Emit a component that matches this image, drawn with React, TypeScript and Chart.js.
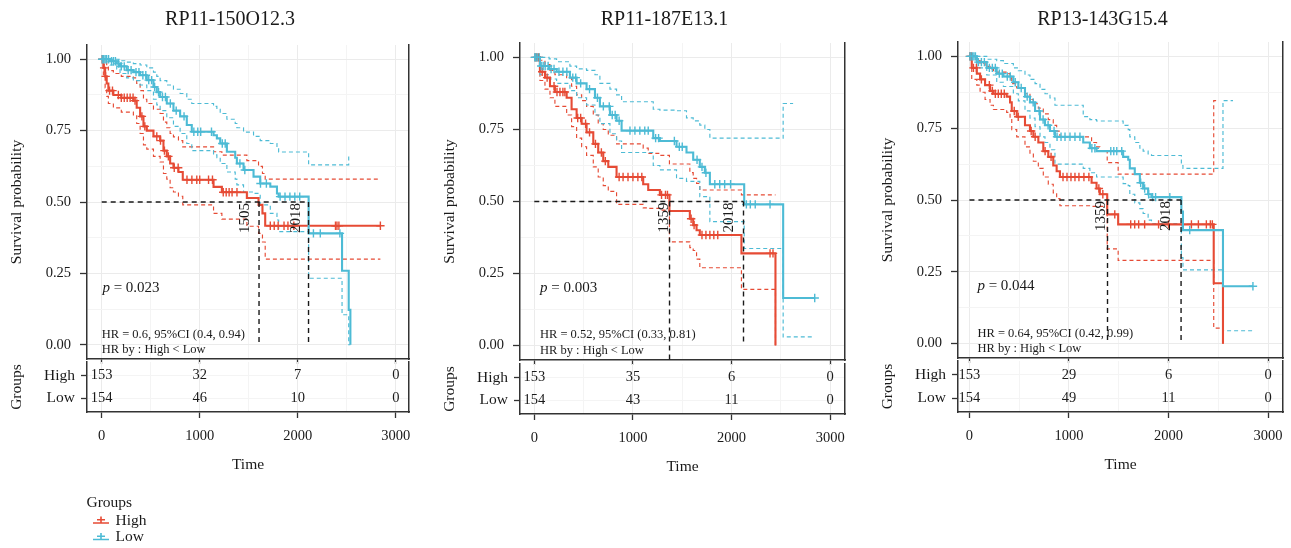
import React, { useEffect, useRef } from 'react';
import { Chart, registerables } from 'chart.js';

Chart.register(...registerables);

const SERIF = '"Liberation Serif", "DejaVu Serif", serif';
const RED = '#E64B35';
const BLUE = '#4DBBD5';
const INK = '#1a1a1a';
const AXIS = '#333333';
const GRID_MAJOR = '#EBEBEB';
const GRID_MINOR = '#F4F4F4';
const CLEAR = 'rgba(0,0,0,0)';

// ---------- labels / ticks ----------
const titles = ['RP11-150O12.3', 'RP11-187E13.1', 'RP13-143G15.4'];
const groupNames = ['High', 'Low'];
const groupColors = [RED, BLUE];
const legendTitle = 'Groups';
const timeTicks = [0, 1000, 2000, 3000];
const timeGrid = [0, 500, 1000, 1500, 2000, 2500, 3000];
const survTicks = [0, 0.25, 0.5, 0.75, 1];
const survGrid = [0, 0.125, 0.25, 0.375, 0.5, 0.625, 0.75, 0.875, 1];
const rowValues = [2, 1];
const pValues = ['0.023', '0.003', '0.044'];
const hrTexts = ['HR = 0.6, 95%CI (0.4, 0.94)', 'HR = 0.52, 95%CI (0.33, 0.81)', 'HR = 0.64, 95%CI (0.42, 0.99)'];
const hrBy = 'HR by : High < Low';

// ---------- panel 1 : RP11-150O12.3 ----------
const p1HighT = [0, 17, 35, 51, 68, 119, 200, 323, 357, 392, 426, 460, 528, 596, 630, 664, 698, 732, 783, 827, 1141, 1226, 1481, 1600, 1640, 1668, 2843];
const p1HighS = [1, 0.97, 0.94, 0.915, 0.89, 0.875, 0.865, 0.855, 0.83, 0.8, 0.765, 0.75, 0.73, 0.715, 0.68, 0.66, 0.635, 0.62, 0.605, 0.578, 0.553, 0.534, 0.514, 0.49, 0.46, 0.417, 0.417];
const p1HighUp = [1, 1, 0.99, 0.975, 0.96, 0.95, 0.94, 0.935, 0.915, 0.89, 0.86, 0.845, 0.825, 0.81, 0.78, 0.76, 0.74, 0.728, 0.715, 0.693, 0.676, 0.664, 0.645, 0.625, 0.6, 0.58, 0.58];
const p1HighLo = [1, 0.94, 0.9, 0.87, 0.845, 0.83, 0.815, 0.805, 0.775, 0.74, 0.7, 0.685, 0.66, 0.64, 0.6, 0.58, 0.55, 0.535, 0.52, 0.49, 0.46, 0.44, 0.415, 0.39, 0.36, 0.3, 0.3];
const p1HighCens = [5, 25, 40, 80, 110, 170, 200, 230, 260, 290, 320, 340, 410, 440, 562, 600, 640, 680, 740, 780, 870, 920, 970, 1000, 1090, 1130, 1240, 1270, 1300, 1330, 1380, 1720, 1760, 1800, 1860, 1900, 1960, 2385, 2400, 2420, 2843];

const p1LowT = [0, 85, 153, 187, 255, 323, 392, 460, 528, 562, 596, 664, 732, 800, 868, 919, 1141, 1175, 1209, 1277, 1362, 1379, 1447, 1549, 1617, 1720, 1788, 1805, 2111, 2452, 2520, 2537];
const p1LowS = [1, 0.993, 0.985, 0.975, 0.962, 0.955, 0.944, 0.927, 0.903, 0.885, 0.868, 0.845, 0.82, 0.8, 0.77, 0.746, 0.734, 0.723, 0.705, 0.676, 0.655, 0.635, 0.612, 0.589, 0.565, 0.554, 0.53, 0.519, 0.39, 0.259, 0.122, 0];
const p1LowUp = [1, 1, 1, 0.995, 0.99, 0.985, 0.98, 0.97, 0.955, 0.94, 0.925, 0.91, 0.895, 0.88, 0.86, 0.845, 0.835, 0.825, 0.81, 0.79, 0.775, 0.76, 0.745, 0.73, 0.715, 0.705, 0.69, 0.675, 0.63, 0.63, 0.664, 0.664];
const p1LowLo = [1, 0.98, 0.965, 0.95, 0.935, 0.925, 0.91, 0.89, 0.86, 0.84, 0.82, 0.795, 0.765, 0.74, 0.705, 0.68, 0.665, 0.655, 0.635, 0.605, 0.58, 0.56, 0.535, 0.53, 0.49, 0.46, 0.437, 0.396, 0.233, 0.105, 0, 0];
const p1LowCens = [5, 20, 35, 50, 70, 100, 120, 140, 170, 200, 230, 270, 300, 350, 380, 420, 450, 480, 510, 540, 580, 620, 650, 700, 760, 840, 940, 980, 1010, 1120, 1230, 1260, 1410, 1460, 1620, 1680, 1820, 1870, 1920, 1970, 2020, 2160, 2230, 2430];

const p1MedLine = [1605, 2110];
const p1MedText = [1505, 2018];
const p1MedBottom = [0, 0];
const p1RiskHigh = [153, 32, 7, 0];
const p1RiskLow = [154, 46, 10, 0];

// ---------- panel 2 : RP11-187E13.1 ----------
const p2HighT = [0, 57, 108, 159, 209, 328, 378, 429, 480, 530, 598, 648, 699, 750, 834, 1104, 1155, 1273, 1370, 1577, 1611, 1645, 1678, 2100, 2445];
const p2HighS = [1, 0.95, 0.93, 0.9, 0.88, 0.86, 0.82, 0.79, 0.77, 0.74, 0.7, 0.67, 0.64, 0.62, 0.585, 0.56, 0.54, 0.523, 0.467, 0.44, 0.418, 0.4, 0.384, 0.32, 0];
const p2HighUp = [1, 0.99, 0.975, 0.955, 0.94, 0.93, 0.9, 0.87, 0.85, 0.83, 0.8, 0.77, 0.75, 0.73, 0.7, 0.685, 0.667, 0.66, 0.63, 0.6, 0.58, 0.563, 0.54, 0.523, 0.523];
const p2HighLo = [1, 0.92, 0.89, 0.86, 0.83, 0.8, 0.76, 0.72, 0.69, 0.66, 0.62, 0.585, 0.555, 0.535, 0.49, 0.478, 0.476, 0.47, 0.36, 0.34, 0.33, 0.3, 0.27, 0.195, 0];
const p2HighCens = [8, 25, 45, 80, 130, 200, 230, 260, 290, 310, 440, 470, 520, 560, 620, 680, 720, 860, 900, 950, 1000, 1050, 1090, 1290, 1330, 1350, 1590, 1620, 1700, 1740, 1780, 1820, 1860, 2390, 2420];

const p2LowT = [0, 57, 150, 226, 361, 429, 530, 615, 665, 767, 834, 885, 1206, 1273, 1442, 1543, 1611, 1678, 1729, 1780, 2128, 2523, 2624, 2843];
const p2LowS = [1, 0.97, 0.96, 0.95, 0.93, 0.91, 0.89, 0.86, 0.83, 0.8, 0.78, 0.746, 0.72, 0.71, 0.69, 0.67, 0.645, 0.62, 0.6, 0.56, 0.49, 0.165, 0.165, 0.165];
const p2LowUp = [1, 1, 0.995, 0.985, 0.97, 0.96, 0.955, 0.94, 0.91, 0.89, 0.87, 0.846, 0.82, 0.817, 0.815, 0.79, 0.78, 0.765, 0.75, 0.72, 0.72, 0.84, 0.84, null];
const p2LowLo = [1, 0.94, 0.925, 0.91, 0.885, 0.86, 0.835, 0.8, 0.77, 0.735, 0.71, 0.67, 0.625, 0.61, 0.58, 0.57, 0.57, 0.517, 0.517, 0.43, 0.337, 0.03, 0.03, 0.03];
const p2LowCens = [5, 15, 30, 50, 70, 90, 110, 140, 170, 200, 250, 290, 330, 390, 420, 470, 560, 640, 700, 760, 790, 820, 860, 970, 1020, 1070, 1120, 1155, 1230, 1260, 1420, 1470, 1500, 1650, 1700, 1740, 1830, 1880, 1930, 1990, 2150, 2190, 2240, 2390, 2843];

const p2MedLine = [1371, 2121];
const p2MedText = [1359, 2018];
const p2MedBottom = [-0.05, 0];
const p2RiskHigh = [153, 35, 6, 0];
const p2RiskLow = [154, 43, 11, 0];

// ---------- panel 3 : RP13-143G15.4 ----------
const p3HighT = [0, 23, 74, 107, 157, 207, 241, 374, 408, 425, 475, 558, 608, 642, 692, 742, 792, 842, 876, 909, 1227, 1277, 1310, 1384, 1494, 2454, 2480, 2547];
const p3HighS = [1, 0.96, 0.94, 0.92, 0.9, 0.88, 0.87, 0.86, 0.84, 0.81, 0.79, 0.76, 0.74, 0.72, 0.7, 0.67, 0.65, 0.62, 0.6, 0.58, 0.56, 0.54, 0.52, 0.45, 0.415, 0.21, 0.21, 0];
const p3HighUp = [1, 1, 0.985, 0.975, 0.965, 0.955, 0.945, 0.94, 0.925, 0.905, 0.89, 0.87, 0.85, 0.835, 0.82, 0.8, 0.78, 0.76, 0.74, 0.72, 0.7, 0.685, 0.67, 0.63, 0.59, 0.846, 0.846, null];
const p3HighLo = [1, 0.92, 0.9, 0.875, 0.85, 0.83, 0.815, 0.805, 0.78, 0.745, 0.72, 0.685, 0.66, 0.635, 0.61, 0.58, 0.555, 0.525, 0.505, 0.48, 0.478, 0.478, 0.478, 0.33, 0.29, 0.054, 0.054, 0];
const p3HighCens = [5, 20, 40, 70, 120, 200, 230, 260, 290, 320, 350, 450, 490, 620, 660, 760, 820, 940, 980, 1020, 1060, 1100, 1150, 1200, 1300, 1340, 1460, 1620, 1660, 1700, 1760, 1900, 2000, 2230, 2300, 2380, 2420, 2440];

const p3LowT = [0, 74, 174, 274, 341, 441, 491, 558, 608, 659, 709, 759, 809, 859, 1143, 1210, 1277, 1544, 1595, 1611, 1661, 1712, 1745, 1795, 1829, 2129, 2145, 2547, 2648, 2848];
const p3LowS = [1, 0.98, 0.96, 0.94, 0.93, 0.91, 0.89, 0.86, 0.84, 0.81, 0.78, 0.76, 0.74, 0.72, 0.7, 0.68, 0.67, 0.65, 0.64, 0.61, 0.59, 0.56, 0.54, 0.52, 0.51, 0.46, 0.395, 0.2, 0.2, 0.2];
const p3LowUp = [1, 1, 0.99, 0.985, 0.975, 0.96, 0.95, 0.935, 0.92, 0.905, 0.885, 0.87, 0.855, 0.83, 0.79, 0.78, 0.775, 0.76, 0.745, 0.72, 0.7, 0.68, 0.67, 0.66, 0.655, 0.62, 0.61, 0.846, 0.846, null];
const p3LowLo = [1, 0.96, 0.935, 0.91, 0.895, 0.87, 0.845, 0.81, 0.785, 0.755, 0.72, 0.7, 0.675, 0.625, 0.61, 0.595, 0.58, 0.557, 0.55, 0.52, 0.49, 0.47, 0.453, 0.43, 0.418, 0.3, 0.257, 0.045, 0.045, 0.045];
const p3LowCens = [5, 15, 30, 45, 60, 90, 120, 150, 200, 230, 260, 300, 330, 380, 410, 460, 520, 580, 640, 700, 740, 790, 850, 880, 920, 960, 1010, 1060, 1110, 1230, 1260, 1420, 1450, 1480, 1530, 1720, 1760, 1800, 1840, 1870, 2013, 2213, 2848];

const p3MedLine = [1387, 2126];
const p3MedText = [1359, 2018];
const p3MedBottom = [0, 0];
const p3RiskHigh = [153, 29, 6, 0];
const p3RiskLow = [154, 49, 11, 0];

// ---------- layout (pixel geometry of each panel on the page) ----------
const Y_AXIS_W = 87;
const PAD_R = 25;
const X_AXIS_H = 6;
const TIME_AXIS_H = 62;
const TITLE_SHIFT = 18;

const boxes = [
  { left: 87, right: 409, top: 45, bottom: 359, tableTop: 362, tableBottom: 412, xMin: -150, xMax: 3135, pX: 7, hrX: 0 },
  { left: 520, right: 845, top: 43, bottom: 360, tableTop: 364, tableBottom: 414, xMin: -145, xMax: 3150, pX: 57, hrX: 57 },
  { left: 958, right: 1283, top: 42, bottom: 358, tableTop: 361, tableBottom: 412, xMin: -115, xMax: 3150, pX: 80, hrX: 80 },
];

const panels = [
  {
    title: titles[0], box: boxes[0], pValue: pValues[0], hr: hrTexts[0],
    high: { t: p1HighT, s: p1HighS, up: p1HighUp, lo: p1HighLo, cens: p1HighCens },
    low: { t: p1LowT, s: p1LowS, up: p1LowUp, lo: p1LowLo, cens: p1LowCens },
    medLine: p1MedLine, medText: p1MedText, medBottom: p1MedBottom, risk: [p1RiskHigh, p1RiskLow],
  },
  {
    title: titles[1], box: boxes[1], pValue: pValues[1], hr: hrTexts[1],
    high: { t: p2HighT, s: p2HighS, up: p2HighUp, lo: p2HighLo, cens: p2HighCens },
    low: { t: p2LowT, s: p2LowS, up: p2LowUp, lo: p2LowLo, cens: p2LowCens },
    medLine: p2MedLine, medText: p2MedText, medBottom: p2MedBottom, risk: [p2RiskHigh, p2RiskLow],
  },
  {
    title: titles[2], box: boxes[2], pValue: pValues[2], hr: hrTexts[2],
    high: { t: p3HighT, s: p3HighS, up: p3HighUp, lo: p3HighLo, cens: p3HighCens },
    low: { t: p3LowT, s: p3LowS, up: p3LowUp, lo: p3LowLo, cens: p3LowCens },
    medLine: p3MedLine, medText: p3MedText, medBottom: p3MedBottom, risk: [p3RiskHigh, p3RiskLow],
  },
];

// ---------- helpers ----------
function stepValue(ts: number[], ss: number[], t: number) {
  let v = ss[0];
  for (let i = 0; i < ts.length; i++) {
    if (ts[i] <= t) v = ss[i];
    else break;
  }
  return v;
}
function toPoints(ts: number[], vs: (number | null)[]) {
  return ts.map((t, i) => ({ x: t, y: vs[i] }));
}

function survRect(b: any) {
  const width = Math.round(b.right - b.left + Y_AXIS_W + PAD_R);
  const height = Math.ceil(b.bottom + X_AXIS_H + 20);
  return { left: b.left - Y_AXIS_W, top: 0, width, height };
}
function tableRect(b: any) {
  const width = Math.round(b.right - b.left + Y_AXIS_W + PAD_R);
  const top = b.tableTop - 25;
  const height = Math.ceil(25 + (b.tableBottom - b.tableTop) + TIME_AXIS_H + 8);
  return { left: b.left - Y_AXIS_W, top, width, height };
}

function survConfig(spec: any): any {
  const b = spec.box;
  const rect = survRect(b);
  const medDs = (pts: any[]) => ({
    data: pts, showLine: true, borderColor: INK, borderWidth: 1.4, borderDash: [5, 4],
    pointRadius: 0, fill: false,
  });
  const maxMed = Math.max(...spec.medLine);
  const datasets: any[] = [
    medDs([{ x: 0, y: 0.5 }, { x: maxMed, y: 0.5 }]),
    ...spec.medLine.map((m: number, i: number) => medDs([{ x: m, y: 0.5 }, { x: m, y: spec.medBottom[i] }])),
  ];
  const groups = [{ g: spec.low, c: BLUE }, { g: spec.high, c: RED }];
  groups.forEach(({ g, c }) => datasets.push({
    data: g.cens.map((t: number) => ({ x: t, y: stepValue(g.t, g.s, t) })),
    showLine: false, pointStyle: 'cross', pointRadius: 4.2, pointBorderWidth: 1.4,
    pointBorderColor: c, borderColor: c, backgroundColor: c,
  }));
  groups.forEach(({ g, c }) => datasets.push({
    data: toPoints(g.t, g.s), showLine: true, stepped: true, borderColor: c, borderWidth: 2.1, pointRadius: 0,
  }));
  groups.forEach(({ g, c }) => {
    [g.up, g.lo].forEach((vals: any) => datasets.push({
      data: toPoints(g.t, vals), showLine: true, stepped: true, borderColor: c, borderWidth: 1.15,
      borderDash: [4, 3], pointRadius: 0, spanGaps: false,
    }));
  });

  const textPlugin = {
    id: 'survText',
    afterDraw(chart: any) {
      const { ctx, chartArea } = chart;
      const xs = chart.scales.x;
      const ys = chart.scales.y;
      ctx.save();
      ctx.fillStyle = INK;
      ctx.textBaseline = 'middle';
      ctx.textAlign = 'center';
      ctx.font = `20px ${SERIF}`;
      ctx.fillText(spec.title, (chartArea.left + chartArea.right) / 2 - TITLE_SHIFT, 20);

      ctx.textAlign = 'left';
      const px = xs.getPixelForValue(b.pX);
      const py = ys.getPixelForValue(0.2);
      ctx.font = `italic 15px ${SERIF}`;
      ctx.fillText('p', px, py);
      const w = ctx.measureText('p').width;
      ctx.font = `15px ${SERIF}`;
      ctx.fillText(' = ' + spec.pValue, px + w, py);

      ctx.font = `12.5px ${SERIF}`;
      const hx = xs.getPixelForValue(b.hrX);
      ctx.fillText(spec.hr, hx, ys.getPixelForValue(0.036));
      ctx.fillText(hrBy, hx, ys.getPixelForValue(-0.018));

      ctx.font = `15px ${SERIF}`;
      spec.medText.forEach((v: number) => {
        ctx.save();
        ctx.translate(xs.getPixelForValue(v), ys.getPixelForValue(0.5) + 1);
        ctx.rotate(-Math.PI / 2);
        ctx.textAlign = 'right';
        ctx.textBaseline = 'alphabetic';
        ctx.fillText(String(v), 0, 0);
        ctx.restore();
      });
      ctx.restore();
    },
  };

  return {
    type: 'scatter',
    data: { datasets },
    options: {
      animation: false,
      responsive: false,
      events: [],
      layout: { padding: { left: 0, right: PAD_R, top: b.top, bottom: rect.height - b.bottom - X_AXIS_H } },
      plugins: { legend: { display: false }, tooltip: { enabled: false }, title: { display: false } },
      scales: {
        x: {
          type: 'linear', min: b.xMin, max: b.xMax,
          afterBuildTicks: (s: any) => { s.ticks = timeGrid.map((v) => ({ value: v })); },
          afterFit: (s: any) => { s.height = X_AXIS_H; },
          ticks: { display: false },
          grid: {
            color: (c: any) => (timeTicks.includes(c.tick?.value) ? GRID_MAJOR : GRID_MINOR),
            lineWidth: 1, tickLength: 5, tickWidth: 1.3,
            tickColor: (c: any) => (timeTicks.includes(c.tick?.value) ? AXIS : CLEAR),
          },
          border: { display: true, color: AXIS, width: 1.5 },
        },
        y: {
          type: 'linear', min: -0.05, max: 1.05,
          afterBuildTicks: (s: any) => { s.ticks = survGrid.map((v) => ({ value: v })); },
          afterFit: (s: any) => { s.width = Y_AXIS_W; },
          ticks: {
            autoSkip: false, padding: 9, color: INK, font: { family: SERIF, size: 14.5 },
            callback: (v: any) => (survTicks.includes(v) ? Number(v).toFixed(2) : ''),
          },
          grid: {
            color: (c: any) => (survTicks.includes(c.tick?.value) ? GRID_MAJOR : GRID_MINOR),
            lineWidth: 1, tickLength: 7, tickWidth: 1.3,
            tickColor: (c: any) => (survTicks.includes(c.tick?.value) ? AXIS : CLEAR),
          },
          border: { display: true, color: AXIS, width: 1.5 },
          title: {
            display: true, text: 'Survival probability', color: INK,
            font: { family: SERIF, size: 15.5 }, padding: { top: 8, bottom: 0 },
          },
        },
        yRight: {
          type: 'linear', position: 'right', min: -0.05, max: 1.05,
          afterFit: (s: any) => { s.width = 0; },
          ticks: { display: false },
          grid: { display: false },
          border: { display: true, color: AXIS, width: 1.5 },
        },
      },
    },
    plugins: [textPlugin],
  };
}

function tableConfig(spec: any): any {
  const b = spec.box;
  const datasets = groupNames.map((name, gi) => ({
    label: name,
    data: timeTicks.map((t) => ({ x: t, y: rowValues[gi] })),
    pointRadius: 0, showLine: false,
  }));
  const numberPlugin = {
    id: 'riskNumbers',
    afterDatasetsDraw(chart: any) {
      const { ctx } = chart;
      ctx.save();
      ctx.fillStyle = INK;
      ctx.font = `14.5px ${SERIF}`;
      ctx.textAlign = 'center';
      ctx.textBaseline = 'middle';
      chart.data.datasets.forEach((_ds: any, di: number) => {
        const meta = chart.getDatasetMeta(di);
        meta.data.forEach((el: any, i: number) => {
          ctx.fillText(String(spec.risk[di][i]), el.x, el.y);
        });
      });
      ctx.restore();
    },
  };
  return {
    type: 'scatter',
    data: { datasets },
    options: {
      animation: false,
      responsive: false,
      events: [],
      layout: { padding: { left: 0, right: PAD_R, top: 25, bottom: 8 } },
      plugins: { legend: { display: false }, tooltip: { enabled: false } },
      scales: {
        x: {
          type: 'linear', min: b.xMin, max: b.xMax,
          afterBuildTicks: (s: any) => { s.ticks = timeGrid.map((v) => ({ value: v })); },
          afterFit: (s: any) => { s.height = TIME_AXIS_H; },
          ticks: {
            autoSkip: false, maxRotation: 0, padding: 9, color: INK, font: { family: SERIF, size: 14.5 },
            callback: (v: any) => (timeTicks.includes(v) ? String(v) : ''),
          },
          grid: {
            color: (c: any) => (timeTicks.includes(c.tick?.value) ? GRID_MAJOR : GRID_MINOR),
            lineWidth: 1, tickLength: 6, tickWidth: 1.3,
            tickColor: (c: any) => (timeTicks.includes(c.tick?.value) ? AXIS : CLEAR),
          },
          border: { display: true, color: AXIS, width: 1.5 },
          title: { display: true, text: 'Time', color: INK, font: { family: SERIF, size: 15.5 }, padding: { top: 0, bottom: 0 } },
        },
        y: {
          type: 'linear', min: 0.4, max: 2.6,
          afterBuildTicks: (s: any) => { s.ticks = rowValues.map((v) => ({ value: v })); },
          afterFit: (s: any) => { s.width = Y_AXIS_W; },
          ticks: {
            autoSkip: false, padding: 6, color: INK, font: { family: SERIF, size: 15.5 },
            callback: (v: any) => groupNames[rowValues.indexOf(v)] ?? '',
          },
          grid: { color: GRID_MINOR, lineWidth: 1, tickLength: 6, tickWidth: 1.3, tickColor: AXIS },
          border: { display: true, color: AXIS, width: 1.5 },
          title: { display: true, text: legendTitle, color: INK, font: { family: SERIF, size: 15.5 }, padding: { top: 8, bottom: 0 } },
        },
        yRight: {
          type: 'linear', position: 'right', min: 0.4, max: 2.6,
          afterFit: (s: any) => { s.width = 0; },
          ticks: { display: false },
          grid: { display: false },
          border: { display: true, color: AXIS, width: 1.5 },
        },
      },
    },
    plugins: [numberPlugin],
  };
}

const legendPlugin = {
  id: 'groupsLegend',
  afterDraw(chart: any) {
    const { ctx } = chart;
    ctx.save();
    ctx.fillStyle = INK;
    ctx.textAlign = 'left';
    ctx.textBaseline = 'middle';
    ctx.font = `15.5px ${SERIF}`;
    ctx.fillText(legendTitle, 26.5, 18);
    chart.data.datasets.forEach((ds: any, i: number) => {
      const cy = 35.5 + i * 16.5;
      ctx.strokeStyle = ds.borderColor;
      ctx.lineWidth = 1.6;
      ctx.beginPath();
      ctx.moveTo(33, cy + 2.5);
      ctx.lineTo(49, cy + 2.5);
      ctx.moveTo(41, cy - 4);
      ctx.lineTo(41, cy + 2.5);
      ctx.moveTo(37, cy - 0.8);
      ctx.lineTo(45, cy - 0.8);
      ctx.stroke();
      ctx.fillStyle = INK;
      ctx.fillText(ds.label, 55.5, cy);
    });
    ctx.restore();
  },
};

function SurvPanel({ spec }: { spec: any }) {
  const survRef = useRef<HTMLCanvasElement | null>(null);
  const tableRef = useRef<HTMLCanvasElement | null>(null);
  useEffect(() => {
    const c1 = new Chart(survRef.current as HTMLCanvasElement, survConfig(spec));
    const c2 = new Chart(tableRef.current as HTMLCanvasElement, tableConfig(spec));
    return () => { c1.destroy(); c2.destroy(); };
  }, [spec]);
  const sr = survRect(spec.box);
  const tr = tableRect(spec.box);
  return (
    <>
      <canvas ref={survRef} width={sr.width} height={sr.height}
        style={{ position: 'absolute', left: sr.left, top: sr.top, width: sr.width, height: sr.height }} />
      <canvas ref={tableRef} width={tr.width} height={tr.height}
        style={{ position: 'absolute', left: tr.left, top: tr.top, width: tr.width, height: tr.height }} />
    </>
  );
}

function LegendBox() {
  const ref = useRef<HTMLCanvasElement | null>(null);
  useEffect(() => {
    const chart = new Chart(ref.current as HTMLCanvasElement, {
      type: 'scatter',
      data: { datasets: groupNames.map((name, i) => ({ label: name, data: [], borderColor: groupColors[i] })) },
      options: {
        animation: false, responsive: false, events: [],
        scales: { x: { display: false }, y: { display: false } },
        plugins: { legend: { display: false }, tooltip: { enabled: false } },
      },
      plugins: [legendPlugin],
    } as any);
    return () => chart.destroy();
  }, []);
  return (
    <canvas ref={ref} width={150} height={63}
      style={{ position: 'absolute', left: 60, top: 485, width: 150, height: 63 }} />
  );
}

export default function App() {
  return (
    <div style={{ position: 'absolute', left: 0, top: 0, width: 1291, height: 548, overflow: 'hidden', background: '#ffffff' }}>
      {panels.map((p, i) => <SurvPanel key={i} spec={p} />)}
      <LegendBox />
    </div>
  );
}
